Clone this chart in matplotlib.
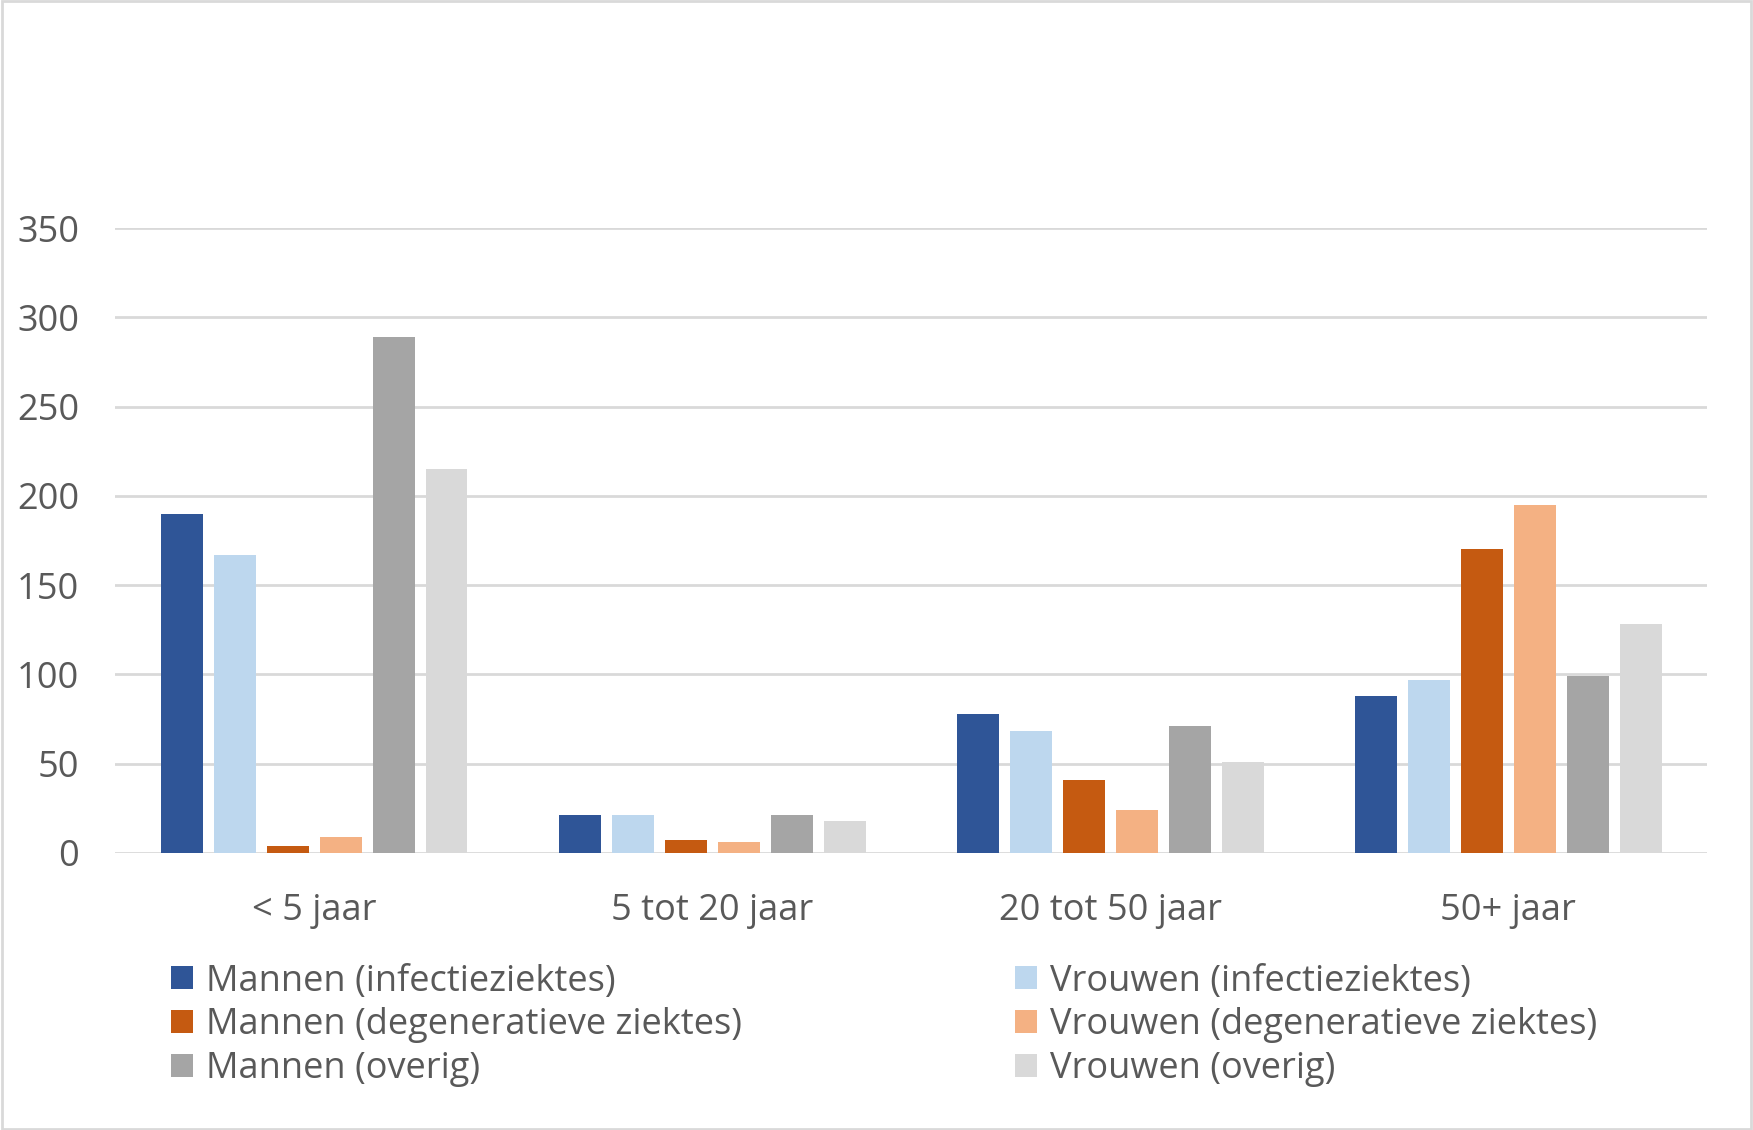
import numpy as np
import matplotlib
matplotlib.use("Agg")
import matplotlib.pyplot as plt
from matplotlib.patches import Rectangle

# categories and series
age_groups = ["< 5 jaar", "5 tot 20 jaar", "20 tot 50 jaar", "50+ jaar"]
series_names = [
    "Mannen (infectieziektes)",
    "Vrouwen (infectieziektes)",
    "Mannen (degeneratieve ziektes)",
    "Vrouwen (degeneratieve ziektes)",
    "Mannen (overig)",
    "Vrouwen (overig)",
]
mannen_infectie = [190, 21, 78, 88]
vrouwen_infectie = [167, 21, 68, 97]
mannen_degeneratief = [4, 7, 41, 170]
vrouwen_degeneratief = [9, 6, 24, 195]
mannen_overig = [289, 21, 71, 99]
vrouwen_overig = [215, 18, 51, 128]
y_ticks = [0, 50, 100, 150, 200, 250, 300, 350]

colors = ["#2F5597", "#BDD7EE", "#C55A11", "#F4B183", "#A5A5A5", "#D9D9D9"]
text_color = "#595959"

plt.rcParams["font.family"] = ["Open Sans", "DejaVu Sans"]

fig = plt.figure(figsize=(17.53, 11.30), dpi=100)
ax = fig.add_axes([0.0657, 0.2453, 0.9083, 0.5529])

all_series = [
    mannen_infectie,
    vrouwen_infectie,
    mannen_degeneratief,
    vrouwen_degeneratief,
    mannen_overig,
    vrouwen_overig,
]
x = np.arange(len(age_groups))
step = 0.133
width = 0.105
handles = []
for j, (vals, name, c) in enumerate(zip(all_series, series_names, colors)):
    b = ax.bar(x + (j - 2.5) * step, vals, width=width, color=c, label=name, zorder=3)
    handles.append(b)

ax.set_xlim(-0.5, 3.5)
ax.set_ylim(0, 350)
ax.set_yticks(y_ticks)
ax.set_xticks(x)
ax.set_xticklabels(age_groups)
ax.yaxis.grid(True, color="#D9D9D9", linewidth=2.0, zorder=0)
ax.set_axisbelow(True)
for s in ["top", "right", "left", "bottom"]:
    ax.spines[s].set_visible(False)
ax.tick_params(axis="both", length=0, labelsize=26, colors=text_color)
ax.tick_params(axis="y", pad=26)
ax.tick_params(axis="x", pad=29)

# legend: Mannen in first column, Vrouwen in second
order = [0, 2, 4, 1, 3, 5]
leg = fig.legend(
    [handles[i] for i in order],
    [series_names[i] for i in order],
    ncol=2,
    loc="upper left",
    bbox_to_anchor=(0.079, 0.176),
    frameon=False,
    fontsize=26,
    labelcolor=text_color,
    handlelength=0.6,
    handleheight=0.6,
    handletextpad=0.38,
    labelspacing=0.21,
    columnspacing=7.55,
)

fig.patches.append(
    Rectangle((0.001, 0.001), 0.998, 0.998, transform=fig.transFigure,
              fill=False, edgecolor="#D9D9D9", linewidth=2)
)

fig.savefig("out.png", dpi=100, facecolor="white")
